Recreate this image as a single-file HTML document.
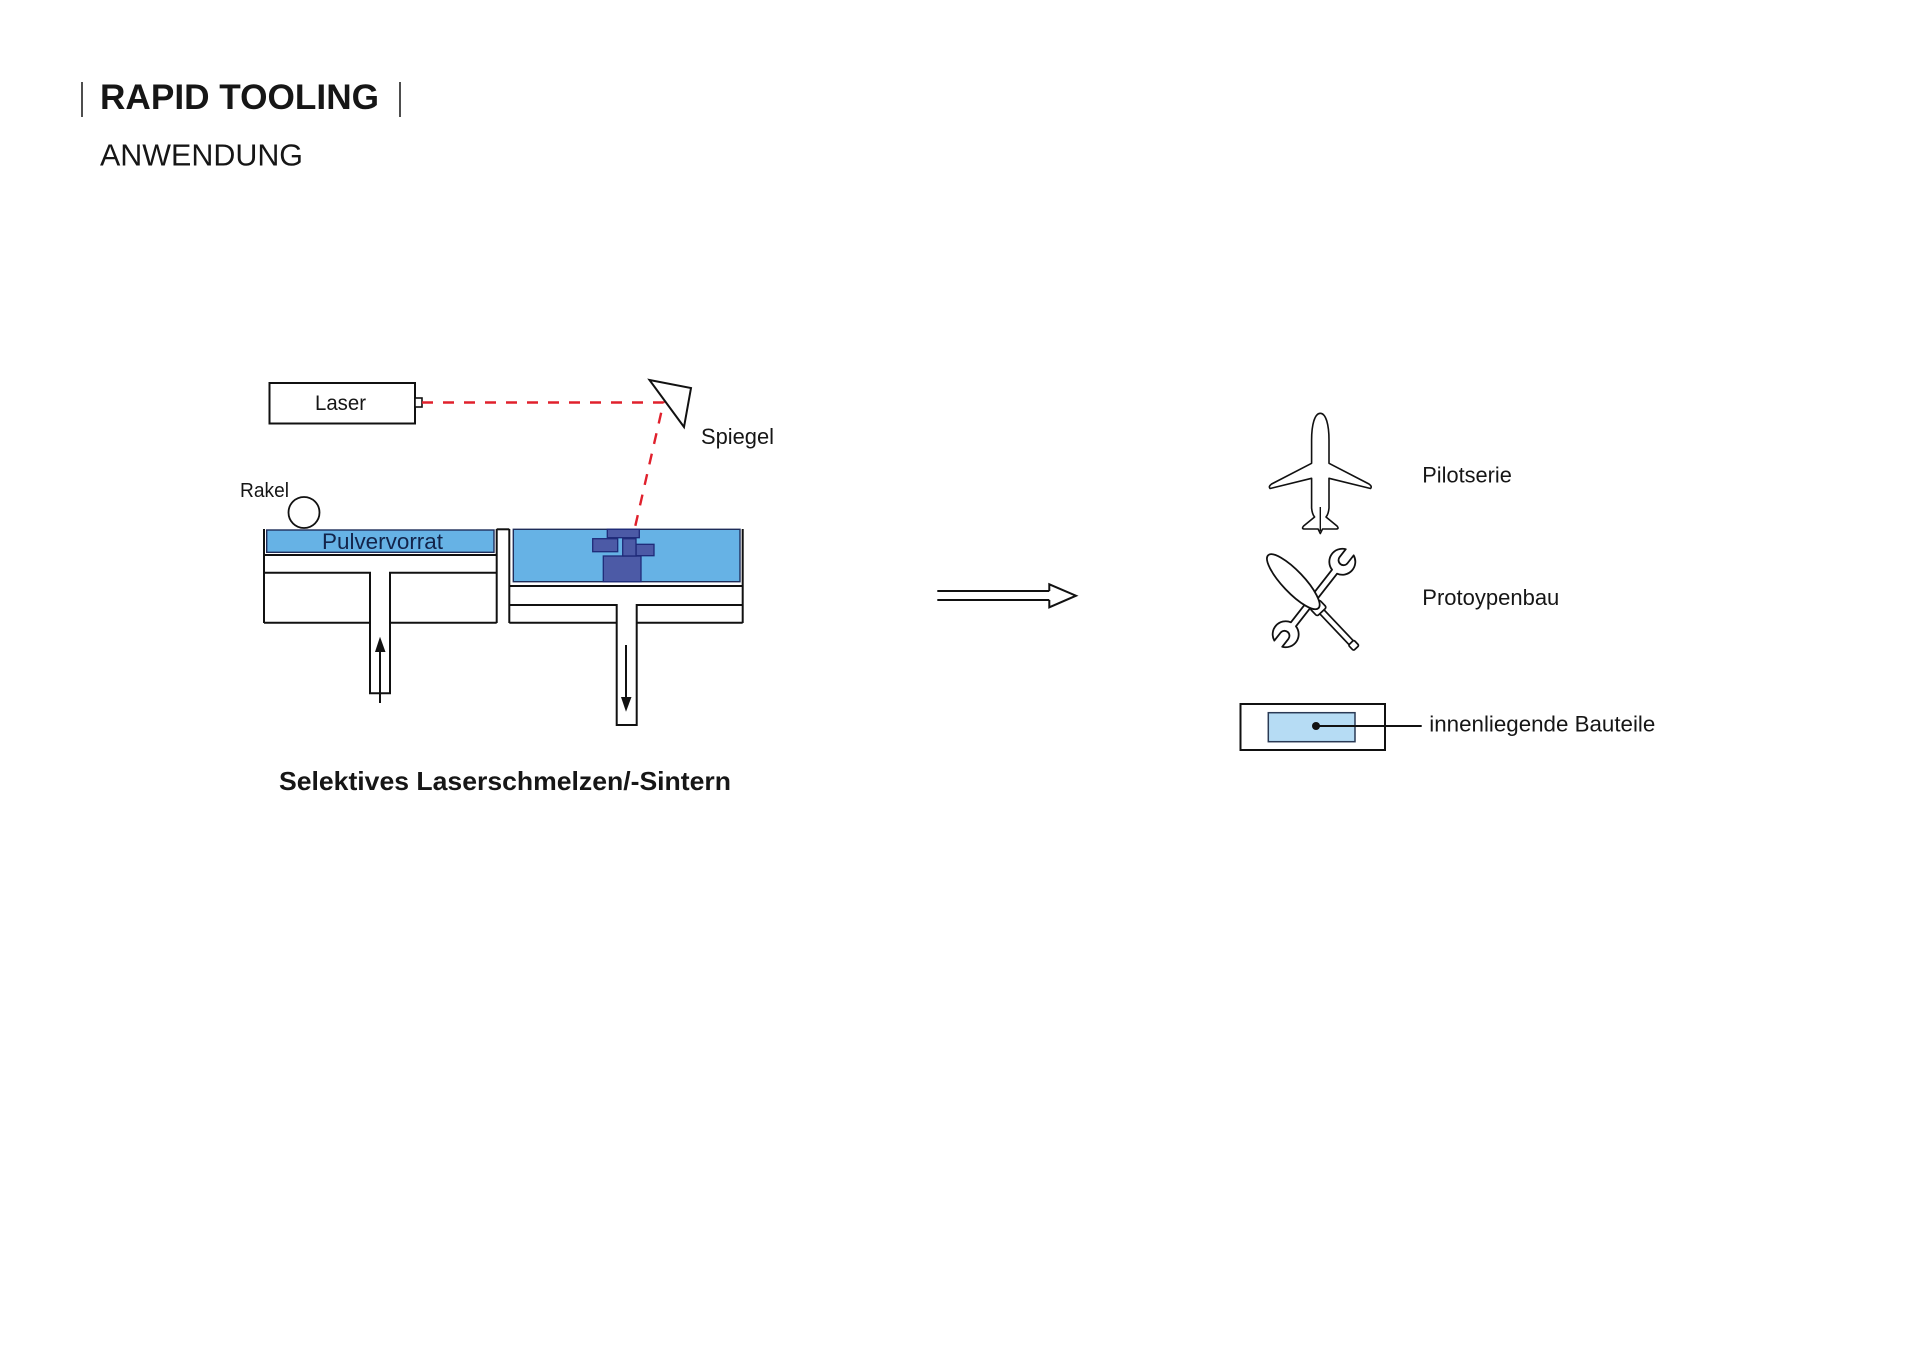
<!DOCTYPE html>
<html>
<head>
<meta charset="utf-8">
<style>
  html,body{margin:0;padding:0;background:#fff;}
  svg{display:block;}
  text{font-family:"Liberation Sans", Arial, sans-serif;fill:#161616;}
</style>
</head>
<body>
<svg width="1920" height="1358" viewBox="0 0 1920 1358" xmlns="http://www.w3.org/2000/svg">
  <rect width="1920" height="1358" fill="#fff"/>

  <!-- Title -->
  <line x1="82" y1="82" x2="82" y2="117" stroke="#222" stroke-width="1.6"/>
  <text x="100" y="109" font-size="35" font-weight="bold" textLength="279" lengthAdjust="spacingAndGlyphs">RAPID TOOLING</text>
  <line x1="400" y1="82" x2="400" y2="117" stroke="#222" stroke-width="1.6"/>
  <text x="100" y="165.5" font-size="31" textLength="203" lengthAdjust="spacingAndGlyphs">ANWENDUNG</text>

  <!-- Laser -->
  <rect x="269.5" y="383" width="145.5" height="40.5" fill="#fff" stroke="#111" stroke-width="2"/>
  <text x="315" y="410" font-size="21" textLength="51" lengthAdjust="spacingAndGlyphs">Laser</text>
  <rect x="415" y="398" width="7" height="9" fill="#fff" stroke="#111" stroke-width="1.6"/>

  <!-- Laser beam -->
  <polyline points="422,402.5 663.5,402.5 634.5,529.5" fill="none" stroke="#e0202c" stroke-width="2.4" stroke-dasharray="11,10"/>

  <!-- Mirror -->
  <polygon points="649.5,380 691,388 684,427" fill="#fff" stroke="#111" stroke-width="2"/>
  <text x="701" y="444" font-size="22" textLength="73" lengthAdjust="spacingAndGlyphs">Spiegel</text>

  <!-- Rakel -->
  <text x="240" y="497" font-size="20" textLength="49" lengthAdjust="spacingAndGlyphs">Rakel</text>
  <circle cx="304" cy="512.5" r="15.5" fill="#fff" stroke="#111" stroke-width="1.8"/>

  <!-- Left chamber (powder supply) -->
  <g fill="none" stroke="#111" stroke-width="2">
    <line x1="264" y1="529" x2="264" y2="623"/>
    <line x1="496.7" y1="529" x2="496.7" y2="623"/>
    <polyline points="496.7,529.3 509.3,529.3"/>
    <line x1="509.3" y1="529" x2="509.3" y2="623"/>
    <line x1="264" y1="555" x2="496.7" y2="555"/>
    <polyline points="264,572.7 370,572.7 370,693.3 390,693.3 390,572.7 496.7,572.7"/>
    <line x1="264" y1="622.7" x2="370" y2="622.7"/>
    <line x1="390" y1="622.7" x2="496.7" y2="622.7"/>
  </g>
  <rect x="266.7" y="530" width="227.3" height="22.3" fill="#66b2e5" stroke="#1e2d5a" stroke-width="1.4"/>
  <text x="322" y="549" font-size="22" textLength="121" lengthAdjust="spacingAndGlyphs" style="fill:#13244a">Pulvervorrat</text>
  <!-- up arrow -->
  <line x1="380" y1="703" x2="380" y2="650" stroke="#111" stroke-width="2"/>
  <polygon points="380,636.7 375,652 385.5,652" fill="#111"/>

  <!-- Right chamber (build) -->
  <rect x="513.3" y="529.3" width="226.7" height="52.4" fill="#66b2e5" stroke="#1e2d5a" stroke-width="1.4"/>
  <g fill="none" stroke="#111" stroke-width="2">
    <line x1="742.7" y1="529" x2="742.7" y2="623"/>
    <line x1="509.3" y1="586" x2="742.7" y2="586"/>
    <polyline points="509.3,605 616.7,605 616.7,725 636.7,725 636.7,605 742.7,605"/>
    <line x1="509.3" y1="622.7" x2="616.7" y2="622.7"/>
    <line x1="636.7" y1="622.7" x2="742.7" y2="622.7"/>
  </g>
  <!-- part blocks -->
  <g fill="#4c5aa6" stroke="#1f2a78" stroke-width="1.3">
    <rect x="603.3" y="556" width="37.7" height="25.7"/>
    <rect x="592.7" y="538.7" width="25" height="13"/>
    <rect x="636" y="544.3" width="18" height="11.4"/>
    <rect x="622.7" y="538.7" width="13.3" height="17.3"/>
    <rect x="607.3" y="529.3" width="32" height="8.4"/>
  </g>
  <!-- down arrow -->
  <line x1="626" y1="645" x2="626" y2="699" stroke="#111" stroke-width="2"/>
  <polygon points="626,711.7 621,697 631.5,697" fill="#111"/>

  <!-- Caption -->
  <text x="279" y="790" font-size="26" font-weight="bold" textLength="452" lengthAdjust="spacingAndGlyphs">Selektives Laserschmelzen/-Sintern</text>

  <!-- Double arrow -->
  <g fill="none" stroke="#111" stroke-width="2">
    <line x1="937.3" y1="591" x2="1049.3" y2="591"/>
    <line x1="937.3" y1="600" x2="1049.3" y2="600"/>
    <polyline points="1049.3,591 1049.3,584.3 1076,595.7 1049.3,607.3 1049.3,600" stroke-linejoin="miter"/>
  </g>

  <!-- Airplane -->
  <path d="M1320.3 413.3 C1326 413.3 1329 425 1329 440 L1329 463.3 L1369 484 Q1372.5 486.5 1370.5 488.5 L1329 478.3 L1329 508 Q1328.5 514 1326 517 L1337 526 Q1339.5 529 1336 529 L1322.5 529 L1320.3 533.5 L1318.1 529 L1304.6 529 Q1301.1 529 1303.6 526 L1314.6 517 Q1312.1 514 1311.6 508 L1311.6 478.3 L1270.1 488.5 Q1268.1 486.5 1271.6 484 L1311.6 463.3 L1311.6 440 C1311.6 425 1314.6 413.3 1320.3 413.3 Z" fill="#fff" stroke="#111" stroke-width="1.6" stroke-linejoin="round"/>
  <line x1="1320.3" y1="507" x2="1320.3" y2="531" stroke="#111" stroke-width="1.4"/>
  <text x="1422.3" y="482.7" font-size="22" textLength="89.5" lengthAdjust="spacingAndGlyphs">Pilotserie</text>

  <!-- Tools: wrench -->
  <g transform="translate(1314,598) rotate(-52)">
    <path d="M-33.4 -3.2 L33.4 -3.2 A13 13 0 0 1 58 -5 L48 -5 A5 5 0 0 0 48 5 L58 5 A13 13 0 0 1 33.4 3.2 L-33.4 3.2 A13 13 0 0 1 -58 5 L-48 5 A5 5 0 0 0 -48 -5 L-58 -5 A13 13 0 0 1 -33.4 -3.2 Z" fill="#fff" stroke="#111" stroke-width="1.8" stroke-linejoin="round"/>
  </g>
  <!-- Tools: screwdriver -->
  <g transform="translate(1293.3,581.7) rotate(46.5)">
    <rect x="40" y="-2.9" width="48" height="5.8" fill="#fff" stroke="#111" stroke-width="1.7"/>
    <rect x="84" y="-3.8" width="7.5" height="7.6" rx="1.5" fill="#fff" stroke="#111" stroke-width="1.7"/>
    <rect x="31" y="-6.5" width="10.5" height="13" rx="2" fill="#fff" stroke="#111" stroke-width="1.7"/>
    <ellipse cx="0" cy="0" rx="36.5" ry="10.8" fill="#fff" stroke="#111" stroke-width="1.8"/>
  </g>
  <text x="1422.3" y="605" font-size="22" textLength="137" lengthAdjust="spacingAndGlyphs">Protoypenbau</text>

  <!-- innenliegende Bauteile -->
  <rect x="1240.5" y="704" width="144.5" height="46" fill="#fff" stroke="#111" stroke-width="2"/>
  <rect x="1268.3" y="712.7" width="86.7" height="29" fill="#b6dcf4" stroke="#2a3a55" stroke-width="1.5"/>
  <line x1="1316" y1="726" x2="1421.7" y2="726" stroke="#111" stroke-width="2"/>
  <circle cx="1316" cy="726" r="4" fill="#111"/>
  <text x="1429.3" y="731.7" font-size="22" textLength="226" lengthAdjust="spacingAndGlyphs">innenliegende Bauteile</text>
</svg>
</body>
</html>
